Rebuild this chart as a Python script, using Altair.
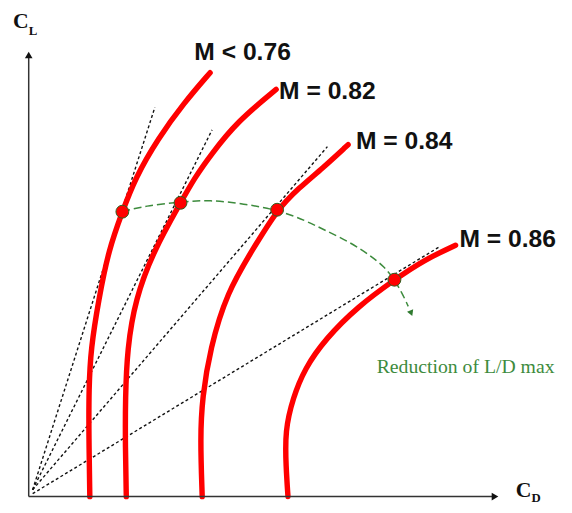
import altair as alt
import pandas as pd

# ---- data (C_D, C_L in arbitrary chart units) ----
curve_labels = ["M < 0.76", "M = 0.82", "M = 0.84", "M = 0.86"]

c1_cd = [0.0124, 0.0122, 0.0122, 0.0126, 0.0142, 0.0162, 0.0190, 0.0216, 0.0262, 0.0316, 0.0368]
c1_cl = [0.0, 0.15, 0.275, 0.375, 0.5, 0.625, 0.7225, 0.8075, 0.9075, 1.0, 1.075]
c2_cd = [0.0198, 0.0196, 0.0196, 0.0200, 0.0216, 0.0254, 0.0308, 0.0336, 0.0370, 0.0422, 0.0502]
c2_cl = [0.0, 0.125, 0.25, 0.375, 0.5, 0.625, 0.745, 0.8075, 0.8675, 0.95, 1.0325]
c3_cd = [0.0352, 0.0348, 0.0352, 0.0368, 0.0402, 0.0456, 0.0504, 0.0548, 0.0596, 0.0648]
c3_cl = [0.0, 0.15, 0.25, 0.375, 0.5175, 0.63, 0.7275, 0.7825, 0.8325, 0.8925]
c4_cd = [0.0526, 0.0522, 0.0520, 0.0536, 0.0560, 0.0602, 0.0668, 0.0742, 0.0802, 0.0866]
c4_cl = [0.0, 0.075, 0.1675, 0.25, 0.325, 0.4, 0.4825, 0.55, 0.6, 0.6375]

# tangent points (max L/D)
dot_cd = [0.0190, 0.0308, 0.0504, 0.0742]
dot_cl = [0.7225, 0.745, 0.7275, 0.55]

# dashed tangent lines from origin: start and end
tan_start_cd = [0.0008, 0.0008, 0.0008, 0.0008]
tan_start_cl = [0.0175, 0.0175, 0.0175, 0.0075]
tan_end_cd = [0.0256, 0.0372, 0.0606, 0.0832]
tan_end_cl = [0.9875, 0.93, 0.8875, 0.6325]

# green "reduction" arc
arc_cd = [0.0190, 0.0236, 0.0308, 0.0368, 0.0436, 0.0504, 0.0562, 0.0602, 0.0652, 0.0692, 0.0722, 0.0742, 0.0758, 0.0770]
arc_cl = [0.7225, 0.7375, 0.7475, 0.7525, 0.7425, 0.7275, 0.70, 0.675, 0.645, 0.6125, 0.5825, 0.55, 0.515, 0.4825]
arc_head = (0.0776, 0.465)

# label anchors
label_cd = [0.0336, 0.0508, 0.0664, 0.0874]
label_cl = [1.1075, 1.0075, 0.8825, 0.6325]
note_text = "Reduction of L/D max"
note_pos = (0.0706, 0.3125)

x_axis_end = 0.0946
y_axis_end = 1.12

# ---- tables ----
curves = []
for name, xs, ys in zip(curve_labels, [c1_cd, c2_cd, c3_cd, c4_cd], [c1_cl, c2_cl, c3_cl, c4_cl]):
    for i, (a, b) in enumerate(zip(xs, ys)):
        curves.append({"curve": name, "i": i, "CD": a, "CL": b})
curves = pd.DataFrame(curves)

tang = []
for k in range(4):
    tang.append({"line": k, "i": 0, "CD": tan_start_cd[k], "CL": tan_start_cl[k]})
    tang.append({"line": k, "i": 1, "CD": tan_end_cd[k], "CL": tan_end_cl[k]})
tang = pd.DataFrame(tang)

arc = pd.DataFrame({"i": list(range(len(arc_cd))), "CD": arc_cd, "CL": arc_cl})
dots = pd.DataFrame({"CD": dot_cd, "CL": dot_cl})
labels = pd.DataFrame({"CD": label_cd, "CL": label_cl, "t": curve_labels})

XS = alt.Scale(domain=[-0.0042, 0.1086], nice=False, zero=False)
YS = alt.Scale(domain=[-0.0325, 1.23], nice=False, zero=False)


def X(f="CD"):
    return alt.X(f"{f}:Q", scale=XS, axis=None)


def Y(f="CL"):
    return alt.Y(f"{f}:Q", scale=YS, axis=None)


dashed = alt.Chart(tang).mark_line(color="#111111", strokeWidth=1.4, strokeDash=[3, 2.5]).encode(
    x=X(), y=Y(), detail="line:N", order="i:Q")

red = alt.Chart(curves).mark_line(color="#ff0000", strokeWidth=5.5, interpolate="basis",
                                  strokeCap="round").encode(
    x=X(), y=Y(), detail="curve:N", order="i:Q")

green = alt.Chart(arc).mark_line(color="#3d8b3d", strokeWidth=1.5, strokeDash=[8, 4],
                                 interpolate="basis").encode(x=X(), y=Y(), order="i:Q")

head = alt.Chart(pd.DataFrame({"CD": [arc_head[0]], "CL": [arc_head[1]]})).mark_point(
    shape="triangle-down", filled=True, color="#2f7a2f", size=45, angle=338, opacity=1).encode(x=X(), y=Y())

pts = alt.Chart(dots).mark_point(shape="circle", filled=True, size=170, fill="#ff0000",
                                 stroke="#2f5f1f", strokeWidth=1, opacity=1).encode(x=X(), y=Y())

axes_df = pd.DataFrame({"CD": [0.0, 0.0], "CL": [0.0, 0.0], "CD2": [x_axis_end, 0.0], "CL2": [0.0, y_axis_end]})
axes = alt.Chart(axes_df).mark_rule(color="#333333", strokeWidth=1.5).encode(
    x=X(), y=Y(), x2="CD2:Q", y2="CL2:Q")

arrow_df = pd.DataFrame({"CD": [x_axis_end, 0.0], "CL": [0.0, y_axis_end],
                         "shape": ["triangle-right", "triangle-up"]})
arrows = alt.Chart(arrow_df).mark_point(filled=True, color="#111111", size=60, opacity=1).encode(
    x=X(), y=Y(), shape=alt.Shape("shape:N", scale=None, legend=None))

mlabels = alt.Chart(labels).mark_text(align="left", baseline="alphabetic", font="Liberation Sans",
                                      fontWeight="bold", fontSize=25, color="#111111").encode(
    x=X(), y=Y(), text="t:N")

note = alt.Chart(pd.DataFrame({"CD": [note_pos[0]], "CL": [note_pos[1]], "t": [note_text]})).mark_text(
    align="left", baseline="alphabetic", font="Liberation Serif", fontSize=20, color="#3d8b3d").encode(
    x=X(), y=Y(), text="t:N")

# axis titles C_L and C_D with subscripts
big_df = pd.DataFrame({"CD": [-0.0032, 0.0988], "CL": [1.1875, 0.0], "t": ["C", "C"]})
sub_df = pd.DataFrame({"CD": [0.0, 0.1020], "CL": [1.17, -0.0125], "t": ["L", "D"]})
big = alt.Chart(big_df).mark_text(align="left", baseline="alphabetic", font="Liberation Serif",
                                  fontWeight="bold", fontSize=22, color="#111111").encode(
    x=X(), y=Y(), text="t:N")
sub = alt.Chart(sub_df).mark_text(align="left", baseline="alphabetic", font="Liberation Serif",
                                  fontWeight="bold", fontSize=13, color="#111111").encode(
    x=X(), y=Y(), text="t:N")

chart = alt.layer(dashed, red, green, head, pts, axes, arrows, mlabels, note, big, sub).properties(
    width=564, height=505, padding=0, autosize=alt.AutoSizeParams(type="none"),
).configure_view(stroke=None)

chart.save("out.html", embed_options={"renderer": "svg", "actions": False})
